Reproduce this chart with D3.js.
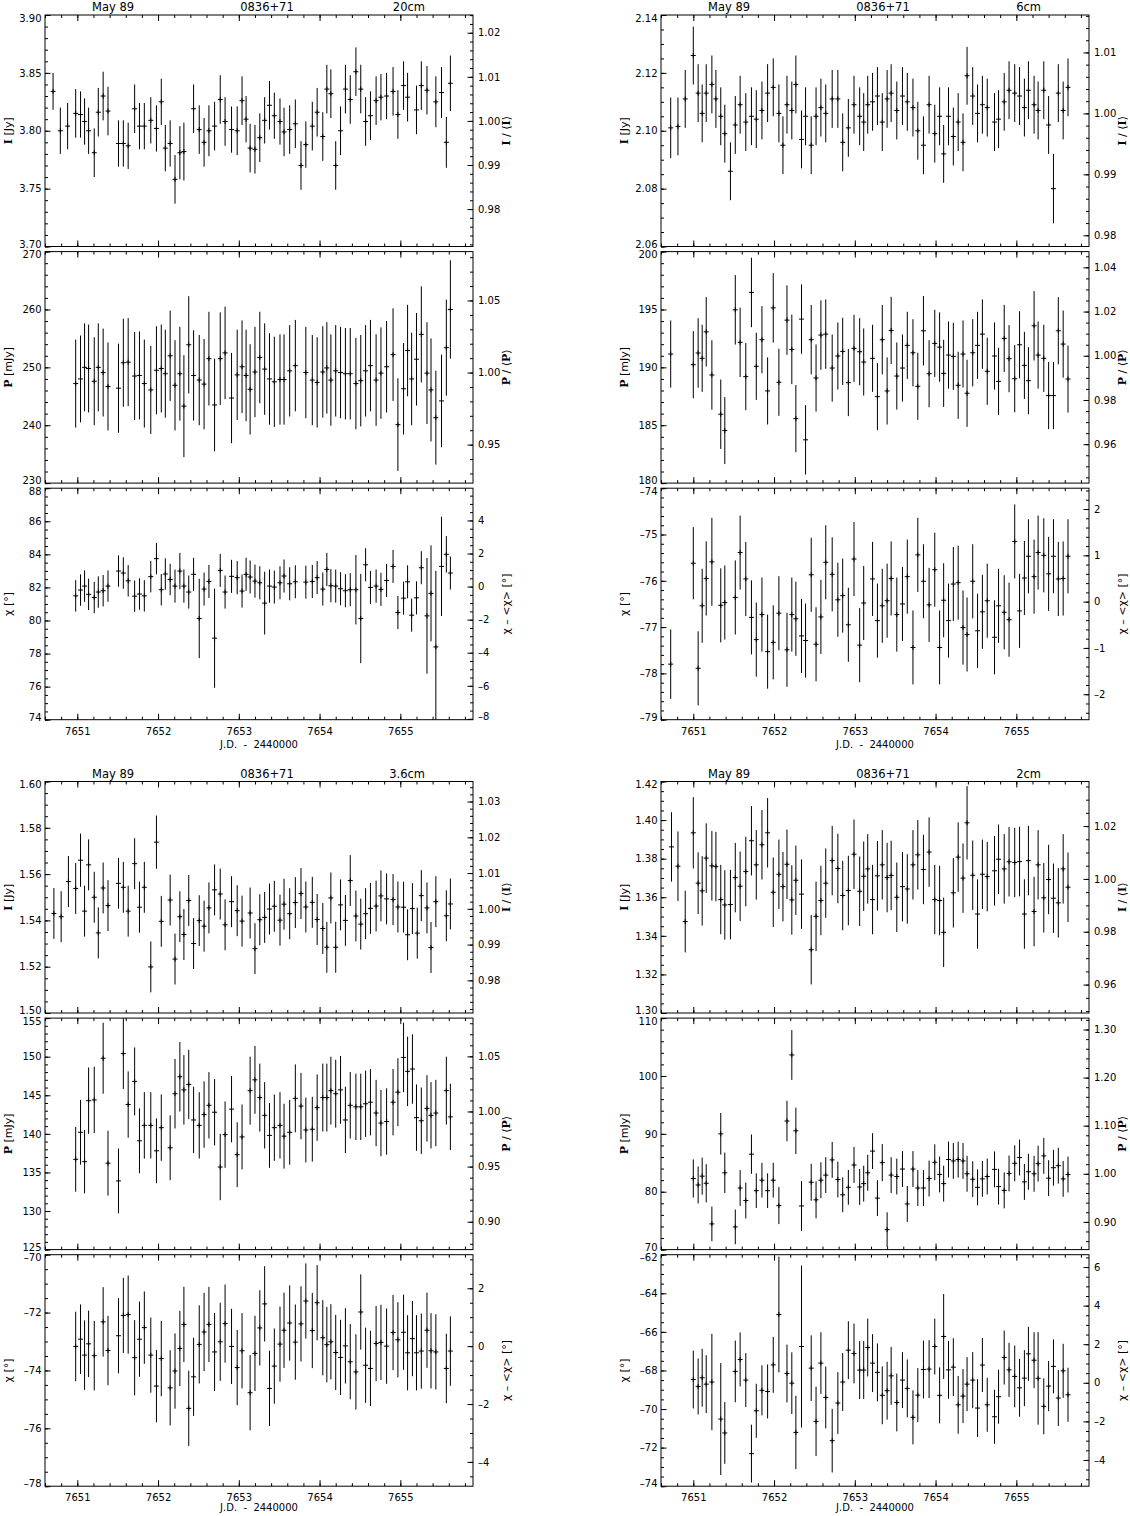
<!DOCTYPE html>
<html>
<head>
<meta charset="utf-8">
<script src="https://cdn.jsdelivr.net/npm/d3@7"></script>
<style>
  body { margin: 0; background: #fff; }
  svg text { font-family: "DejaVu Sans", sans-serif; fill: #000; }
  .tick text { font-size: 10px; }
  .title { font-size: 11.5px; }
  .ylab { font-size: 11px; }
  .xlab { font-size: 10px; white-space: pre; }
</style>
</head>
<body>
<svg id="chart" width="1130" height="1516"></svg>
<script>
// x axis (J.D. - 2440000)
var xDomain = [7650.6, 7655.9];
var xTicks = [7651, 7652, 7653, 7654, 7655];

// ---------- 20cm ----------
var t20I = [7650.70,7650.79,7650.88,7650.98,7651.04,7651.09,7651.14,7651.21,7651.26,7651.32,
  7651.38,7651.51,7651.57,7651.63,7651.71,7651.77,7651.83,7651.91,7651.98,7652.04,
  7652.09,7652.15,7652.21,7652.27,7652.32,7652.44,7652.51,7652.57,7652.63,7652.70,
  7652.77,7652.83,7652.91,7652.98,7653.04,7653.09,7653.14,7653.20,7653.26,7653.32,
  7653.38,7653.44,7653.51,7653.56,7653.63,7653.70,7653.77,7653.83,7653.91,7653.97,
  7654.04,7654.09,7654.14,7654.20,7654.26,7654.32,7654.38,7654.45,7654.51,7654.57,
  7654.63,7654.70,7654.76,7654.83,7654.91,7654.97,7655.04,7655.09,7655.20,7655.26,
  7655.33,7655.44,7655.51,7655.57,7655.62];
var I20 = [3.834,3.800,3.804,3.815,3.814,3.808,3.800,3.781,3.816,3.830,
  3.817,3.789,3.789,3.787,3.819,3.804,3.804,3.809,3.802,3.825,
  3.785,3.789,3.758,3.781,3.782,3.819,3.801,3.790,3.800,3.804,
  3.827,3.808,3.801,3.800,3.826,3.810,3.785,3.784,3.794,3.809,
  3.822,3.813,3.808,3.799,3.801,3.806,3.770,3.788,3.804,3.816,
  3.795,3.836,3.832,3.770,3.800,3.836,3.827,3.851,3.836,3.808,
  3.813,3.826,3.829,3.830,3.834,3.814,3.839,3.829,3.818,3.839,
  3.835,3.825,3.833,3.790,3.841];
var eI20 = [0.016,0.020,0.020,0.021,0.020,0.020,0.020,0.021,0.021,0.021,
  0.021,0.020,0.020,0.020,0.021,0.020,0.020,0.020,0.020,0.020,
  0.020,0.020,0.021,0.023,0.025,0.021,0.021,0.021,0.022,0.021,
  0.021,0.021,0.020,0.021,0.021,0.020,0.021,0.021,0.021,0.020,
  0.021,0.020,0.020,0.021,0.021,0.021,0.021,0.020,0.021,0.021,
  0.021,0.021,0.021,0.021,0.021,0.021,0.021,0.021,0.021,0.021,
  0.021,0.021,0.020,0.020,0.021,0.021,0.021,0.021,0.021,0.021,
  0.021,0.022,0.022,0.022,0.024];
var t20P = [7650.98,7651.04,7651.09,7651.14,7651.21,7651.26,7651.32,7651.38,7651.51,7651.57,
  7651.63,7651.71,7651.77,7651.83,7651.91,7651.98,7652.04,7652.09,7652.15,7652.21,
  7652.27,7652.32,7652.38,7652.44,7652.51,7652.57,7652.63,7652.70,7652.77,7652.83,
  7652.91,7652.98,7653.04,7653.09,7653.14,7653.20,7653.26,7653.32,7653.38,7653.44,
  7653.51,7653.56,7653.63,7653.70,7653.83,7653.91,7653.97,7654.04,7654.09,7654.14,
  7654.20,7654.26,7654.32,7654.38,7654.45,7654.51,7654.57,7654.63,7654.70,7654.76,
  7654.83,7654.91,7654.97,7655.04,7655.09,7655.14,7655.20,7655.26,7655.33,7655.38,
  7655.44,7655.51,7655.57,7655.62];
var P20 = [247.2,248.0,250.0,249.8,247.6,250.0,249.1,246.7,246.4,250.8,
  250.9,248.5,248.6,247.2,246.1,249.5,249.8,248.9,252.0,246.9,
  248.9,243.3,253.9,248.6,247.8,247.1,251.5,243.5,251.5,252.5,
  244.7,248.7,250.1,248.6,246.2,249.2,251.7,249.7,248.0,247.5,
  247.9,247.9,249.4,250.3,249.1,247.8,247.4,249.2,249.9,247.8,
  249.4,249.1,248.9,248.9,247.2,247.7,249.4,250.3,247.8,249.0,
  250.1,252.2,240.1,246.3,252.9,248.0,251.4,255.7,249.0,246.1,
  241.3,244.2,253.4,260.0];
var eP20 = [7.6,7.5,7.6,7.6,7.6,7.6,7.6,7.6,7.7,7.6,
  7.6,7.6,7.6,7.6,7.6,7.6,7.6,7.6,7.8,7.8,
  8.1,8.8,8.4,7.8,7.8,7.8,8.1,8.0,8.0,8.0,
  7.8,7.8,8.0,7.9,7.8,7.8,7.9,7.9,7.9,7.8,
  7.8,7.8,7.9,7.9,7.9,7.8,7.8,7.9,7.9,7.9,
  7.9,7.9,7.9,7.9,7.9,7.9,7.9,7.9,7.9,7.9,
  7.9,8.0,8.0,7.9,7.9,8.0,8.0,8.3,8.8,8.9,
  8.1,8.0,8.3,8.5];
var X20 = [81.49,81.84,82.08,81.58,81.39,81.72,81.80,82.08,82.99,82.87,
  82.40,81.47,81.60,81.49,82.65,83.74,81.86,82.81,82.48,82.08,
  82.99,82.08,81.72,82.79,80.12,81.90,82.36,78.93,83.03,81.72,
  82.67,82.59,81.78,82.79,82.63,82.38,82.28,81.05,82.08,82.02,
  82.28,82.69,82.22,82.34,82.32,82.36,82.59,81.90,83.09,82.10,
  82.08,81.92,81.80,81.86,81.86,80.12,83.37,82.00,82.08,81.88,
  82.42,83.27,80.48,81.35,82.34,80.32,81.37,83.19,80.28,81.64,
  78.40,83.27,84.00,82.87];
var eX20 = [0.95,0.95,0.95,0.95,0.95,0.95,0.95,0.95,0.95,0.95,
  0.95,0.95,0.95,0.95,0.95,0.95,0.95,0.95,0.95,1.0,
  1.1,1.0,1.0,1.0,2.4,1.0,1.0,3.0,1.0,1.0,
  1.0,1.0,1.0,1.0,1.0,1.0,1.0,1.9,1.0,1.0,
  1.0,1.0,1.0,1.0,1.0,1.0,1.0,1.0,1.0,1.0,
  1.0,1.0,1.0,1.0,2.1,2.7,1.0,1.0,1.0,1.0,
  1.0,1.0,1.0,1.0,1.0,1.0,1.0,1.0,3.5,2.9,
  4.6,3.0,1.1,1.0];

// ---------- 6cm ----------
var t6I = [7650.72,7650.81,7650.90,7651.00,7651.06,7651.11,7651.16,7651.23,7651.28,7651.34,
  7651.39,7651.46,7651.52,7651.58,7651.65,7651.72,7651.78,7651.85,7651.92,7651.99,
  7652.06,7652.11,7652.16,7652.22,7652.27,7652.34,7652.39,7652.46,7652.52,7652.58,
  7652.64,7652.72,7652.79,7652.85,7652.92,7652.99,7653.06,7653.11,7653.16,7653.22,
  7653.28,7653.34,7653.40,7653.45,7653.52,7653.59,7653.65,7653.72,7653.78,7653.85,
  7653.92,7653.99,7654.05,7654.10,7654.16,7654.22,7654.28,7654.34,7654.39,7654.46,
  7654.52,7654.58,7654.64,7654.73,7654.78,7654.85,7654.91,7654.98,7655.04,7655.10,
  7655.15,7655.22,7655.27,7655.34,7655.40,7655.46,7655.52,7655.58,7655.64];
var I6 = [2.101,2.1015,2.111,2.126,2.113,2.106,2.113,2.116,2.111,2.105,
  2.099,2.086,2.102,2.109,2.103,2.105,2.104,2.107,2.113,2.115,
  2.106,2.095,2.109,2.107,2.116,2.097,2.105,2.095,2.105,2.108,
  2.106,2.111,2.111,2.096,2.101,2.109,2.105,2.103,2.109,2.110,
  2.112,2.103,2.111,2.113,2.107,2.112,2.110,2.108,2.100,2.095,
  2.109,2.099,2.105,2.092,2.105,2.098,2.103,2.096,2.119,2.112,
  2.106,2.109,2.108,2.103,2.104,2.110,2.114,2.113,2.112,2.108,
  2.114,2.109,2.107,2.114,2.102,2.080,2.113,2.107,2.115];
var eI6 = [0.0105,0.010,0.010,0.010,0.010,0.010,0.010,0.010,0.010,0.010,
  0.010,0.010,0.010,0.010,0.010,0.010,0.010,0.010,0.010,0.010,
  0.010,0.010,0.010,0.010,0.010,0.010,0.010,0.010,0.010,0.010,
  0.010,0.010,0.010,0.010,0.010,0.010,0.010,0.010,0.010,0.010,
  0.010,0.010,0.010,0.010,0.010,0.010,0.010,0.010,0.010,0.010,
  0.010,0.010,0.010,0.010,0.010,0.010,0.010,0.010,0.010,0.010,
  0.010,0.010,0.010,0.010,0.010,0.010,0.010,0.010,0.010,0.010,
  0.010,0.010,0.010,0.010,0.010,0.012,0.010,0.010,0.010];
var t6P = [7650.72,7651.00,7651.06,7651.11,7651.16,7651.23,7651.34,7651.39,7651.52,7651.58,
  7651.65,7651.72,7651.78,7651.85,7651.92,7651.99,7652.06,7652.16,7652.22,7652.27,
  7652.34,7652.39,7652.46,7652.52,7652.58,7652.64,7652.72,7652.79,7652.85,7652.92,
  7652.99,7653.06,7653.11,7653.22,7653.28,7653.34,7653.40,7653.45,7653.52,7653.59,
  7653.65,7653.72,7653.78,7653.85,7653.92,7653.99,7654.05,7654.10,7654.16,7654.22,
  7654.28,7654.34,7654.39,7654.46,7654.52,7654.58,7654.64,7654.73,7654.78,7654.85,
  7654.91,7654.98,7655.04,7655.10,7655.15,7655.22,7655.27,7655.34,7655.40,7655.46,
  7655.52,7655.58,7655.64];
var P6 = [191.15,190.23,191.24,190.78,193.07,189.34,185.95,184.54,194.97,192.16,
  189.20,196.47,190.09,192.39,187.96,195.14,188.71,194.08,191.55,185.57,
  194.17,183.74,192.39,189.08,192.79,192.87,189.94,190.98,191.38,188.68,
  191.64,191.35,190.46,190.78,187.47,192.39,187.96,193.19,189.25,189.94,
  191.90,191.26,188.36,193.16,189.45,192.07,191.75,189.48,191.06,190.95,
  188.45,191.15,187.76,191.26,191.90,192.87,189.66,190.98,188.79,192.50,
  190.75,189.02,191.95,190.17,188.85,193.59,191.06,190.78,187.56,187.56,
  193.16,192.01,188.99];
var eP6 = [2.9,2.9,3.0,2.9,3.0,3.0,3.0,2.9,3.0,3.0,
  2.9,3.0,2.9,2.9,2.9,3.0,2.9,3.0,3.0,2.9,
  3.0,3.0,3.0,2.9,3.0,3.0,2.9,2.9,2.9,2.9,
  2.9,2.9,2.9,2.9,2.9,3.0,2.9,2.9,2.9,2.9,
  2.9,2.9,2.9,3.0,2.9,2.9,3.0,2.9,2.9,2.9,
  2.9,2.9,2.9,2.9,2.9,3.0,2.9,2.9,2.9,2.9,
  2.9,2.9,2.9,2.9,2.9,3.0,2.9,2.9,2.9,2.9,
  2.9,2.9,2.9];
var X6 = [-77.80,-75.62,-77.89,-76.54,-75.95,-75.59,-76.53,-76.47,-76.36,-75.39,
  -75.96,-76.79,-77.27,-76.73,-77.53,-77.33,-76.70,-77.49,-76.73,-76.82,
  -77.19,-77.29,-75.87,-77.37,-76.78,-75.60,-75.86,-76.41,-76.32,-76.95,
  -75.53,-77.39,-76.48,-75.96,-76.86,-76.54,-76.43,-75.95,-76.73,-76.50,
  -75.91,-77.44,-75.44,-76.01,-76.52,-75.76,-77.44,-76.42,-76.86,-76.07,
  -76.04,-77.01,-77.16,-76.01,-77.08,-76.67,-76.43,-77.22,-76.54,-76.68,
  -76.84,-75.15,-76.65,-75.94,-75.47,-75.91,-75.39,-75.45,-75.85,-75.47,
  -75.96,-75.95,-75.47];
var eX6 = [0.75,0.78,0.8,0.8,0.8,0.95,0.8,0.8,0.8,0.8,
  0.8,0.8,0.8,0.8,0.8,0.8,0.8,0.8,0.8,0.8,
  0.8,0.8,0.8,0.8,0.8,0.8,0.8,0.8,0.8,0.8,
  0.8,0.8,0.8,0.8,0.8,0.8,0.8,0.8,0.8,0.8,
  0.8,0.8,0.8,0.8,0.8,0.8,0.8,0.8,0.8,0.8,
  0.8,0.8,0.8,0.8,0.8,0.8,0.8,0.8,0.8,0.8,
  0.8,0.8,0.8,0.8,0.8,0.8,0.8,0.8,0.8,0.8,
  0.8,0.8,0.8];

// ---------- 3.6cm ----------
var t36I = [7650.71,7650.80,7650.89,7650.98,7651.04,7651.09,7651.14,7651.21,7651.26,7651.32,
  7651.38,7651.51,7651.57,7651.63,7651.71,7651.77,7651.83,7651.91,7651.98,7652.04,
  7652.15,7652.21,7652.27,7652.32,7652.38,7652.44,7652.51,7652.57,7652.63,7652.70,
  7652.77,7652.83,7652.91,7652.98,7653.04,7653.14,7653.20,7653.26,7653.32,7653.38,
  7653.44,7653.51,7653.56,7653.63,7653.70,7653.77,7653.83,7653.91,7653.97,7654.04,
  7654.09,7654.14,7654.20,7654.26,7654.32,7654.38,7654.45,7654.51,7654.57,7654.63,
  7654.70,7654.76,7654.83,7654.91,7654.97,7655.04,7655.09,7655.15,7655.21,7655.26,
  7655.33,7655.38,7655.44,7655.57,7655.62];
var I36 = [1.5430,1.5416,1.5568,1.5538,1.5660,1.5440,1.5640,1.5500,1.5346,1.5540,
  1.5464,1.5560,1.5543,1.5440,1.5645,1.5457,1.5543,1.5199,1.5738,1.5396,
  1.5488,1.5233,1.5416,1.5339,1.5486,1.5300,1.5399,1.5375,1.5454,1.5532,
  1.5514,1.5381,1.5481,1.5442,1.5397,1.5432,1.5278,1.5403,1.5413,1.5449,
  1.5461,1.5401,1.5470,1.5429,1.5477,1.5516,1.5458,1.5478,1.5404,1.5365,
  1.5284,1.5497,1.5284,1.5467,1.5400,1.5572,1.5419,1.5384,1.5429,1.5452,
  1.5462,1.5506,1.5493,1.5490,1.5458,1.5457,1.5338,1.5451,1.5345,1.5507,
  1.5454,1.5283,1.5481,1.5420,1.5471];
var eI36 = [0.011,0.011,0.011,0.011,0.0115,0.011,0.011,0.011,0.011,0.011,
  0.011,0.011,0.011,0.011,0.011,0.011,0.011,0.011,0.0115,0.011,
  0.011,0.011,0.011,0.011,0.011,0.011,0.011,0.011,0.011,0.011,
  0.011,0.011,0.011,0.011,0.011,0.011,0.011,0.011,0.011,0.011,
  0.011,0.011,0.011,0.011,0.011,0.011,0.011,0.011,0.011,0.011,
  0.011,0.011,0.011,0.011,0.011,0.011,0.011,0.011,0.011,0.011,
  0.011,0.011,0.011,0.011,0.011,0.011,0.011,0.011,0.011,0.011,
  0.011,0.011,0.011,0.011,0.011];
var t36P = [7650.98,7651.04,7651.09,7651.14,7651.21,7651.32,7651.38,7651.51,7651.57,7651.63,
  7651.71,7651.77,7651.83,7651.91,7651.98,7652.04,7652.15,7652.21,7652.27,7652.32,
  7652.38,7652.44,7652.51,7652.57,7652.63,7652.70,7652.77,7652.83,7652.91,7652.98,
  7653.04,7653.14,7653.20,7653.26,7653.32,7653.38,7653.44,7653.51,7653.56,7653.63,
  7653.70,7653.77,7653.83,7653.91,7653.97,7654.04,7654.09,7654.14,7654.20,7654.26,
  7654.32,7654.38,7654.45,7654.51,7654.57,7654.63,7654.70,7654.76,7654.83,7654.91,
  7654.97,7655.04,7655.09,7655.15,7655.20,7655.26,7655.33,7655.38,7655.44,7655.57,
  7655.62];
var P36 = [136.7,140.2,136.4,144.3,144.4,149.8,136.2,133.9,150.4,143.8,
  146.8,139.1,141.1,141.1,137.8,140.8,138.2,145.2,147.4,145.7,
  146.4,141.8,141.1,142.5,143.7,142.8,135.7,139.9,143.2,137.3,
  139.6,145.6,147.0,144.7,142.4,139.8,140.8,141.1,139.7,140.2,
  144.6,143.6,140.5,140.6,143.4,144.7,144.7,145.6,145.2,145.7,
  141.8,143.7,143.5,143.5,143.9,144.1,142.7,141.4,141.6,144.1,
  145.4,149.9,148.1,148.4,142.1,141.7,143.3,142.4,142.7,145.6,
  142.2];
var eP36 = [4.2,4.2,4.1,4.3,4.3,4.6,4.2,4.2,4.6,4.3,
  4.4,4.2,4.3,4.3,4.2,4.3,4.2,4.5,4.5,4.5,
  4.5,4.3,4.3,4.3,4.3,4.3,4.3,4.3,4.3,4.2,
  4.2,4.4,4.4,4.4,4.3,4.2,4.3,4.3,4.2,4.2,
  4.4,4.3,4.2,4.2,4.3,4.4,4.4,4.4,4.4,4.4,
  4.3,4.3,4.3,4.3,4.3,4.3,4.3,4.3,4.3,4.3,
  4.4,4.5,4.5,4.5,4.3,4.3,4.3,4.3,4.3,4.4,
  4.3];
var X36 = [-73.17,-72.92,-73.47,-73.08,-73.49,-72.32,-73.31,-72.80,-72.10,-72.07,
  -73.56,-72.92,-72.52,-73.47,-74.54,-73.59,-74.60,-74.02,-73.24,-72.41,
  -75.31,-74.22,-73.10,-72.67,-72.41,-73.36,-73.01,-72.38,-73.17,-73.90,
  -73.32,-74.77,-73.41,-72.53,-71.70,-74.62,-73.85,-73.09,-72.61,-72.36,
  -73.02,-72.39,-71.60,-72.62,-71.66,-72.87,-73.11,-73.01,-73.38,-73.55,
  -73.15,-73.70,-74.05,-71.98,-73.82,-73.93,-73.07,-73.03,-73.16,-72.69,
  -72.94,-72.68,-73.39,-72.90,-73.39,-73.33,-72.61,-73.32,-73.36,-73.93,
  -73.33];
var eX36 = [1.2,1.2,1.2,1.15,1.2,1.2,1.2,1.3,1.3,1.35,
  1.3,1.3,1.25,1.3,1.25,1.3,1.3,1.3,1.3,1.3,
  1.3,1.35,1.35,1.35,1.3,1.35,1.35,1.35,1.3,1.3,
  1.3,1.3,1.3,1.3,1.3,1.3,1.3,1.3,1.3,1.3,
  1.3,1.3,1.3,1.3,1.3,1.3,1.3,1.3,1.3,1.3,
  1.3,1.3,1.3,1.3,1.3,1.3,1.3,1.3,1.3,1.3,
  1.3,1.3,1.3,1.3,1.3,1.3,1.3,1.3,1.3,1.2,
  1.2];

// ---------- 2cm ----------
var t2I = [7650.73,7650.81,7650.90,7651.00,7651.06,7651.11,7651.16,7651.23,7651.28,7651.34,
  7651.39,7651.46,7651.52,7651.58,7651.65,7651.72,7651.78,7651.85,7651.92,7651.99,
  7652.06,7652.11,7652.16,7652.22,7652.27,7652.34,7652.46,7652.52,7652.58,7652.64,
  7652.72,7652.79,7652.85,7652.92,7652.99,7653.06,7653.11,7653.16,7653.22,7653.28,
  7653.34,7653.40,7653.45,7653.52,7653.59,7653.65,7653.72,7653.78,7653.85,7653.92,
  7653.99,7654.05,7654.10,7654.22,7654.28,7654.34,7654.39,7654.46,7654.52,7654.58,
  7654.64,7654.73,7654.78,7654.85,7654.91,7654.98,7655.04,7655.10,7655.15,7655.22,
  7655.27,7655.34,7655.40,7655.46,7655.52,7655.58,7655.64];
var I2 = [1.3861,1.3761,1.3474,1.3934,1.3673,1.3633,1.3803,1.3763,1.3759,1.3588,
  1.3560,1.3562,1.3702,1.3657,1.3733,1.3893,1.3768,1.3872,1.3934,1.3626,
  1.3719,1.3655,1.3771,1.3586,1.3688,1.3616,1.3328,1.3501,1.3583,1.3673,
  1.3790,1.3749,1.3609,1.3635,1.3823,1.3631,1.3709,1.3747,1.3588,1.3711,
  1.3768,1.3702,1.3713,1.3600,1.3655,1.3643,1.3768,1.3820,1.3744,1.3834,
  1.3588,1.3583,1.3418,1.3623,1.3808,1.3699,1.3986,1.3714,1.3513,1.3719,
  1.3707,1.3737,1.3797,1.3747,1.3784,1.3780,1.3785,1.3513,1.3790,1.3526,
  1.3768,1.3597,1.3692,1.3595,1.3571,1.3747,1.3652];
var eI2 = [0.018,0.018,0.016,0.0185,0.016,0.018,0.018,0.018,0.018,0.018,
  0.018,0.018,0.018,0.018,0.018,0.018,0.018,0.018,0.018,0.018,
  0.018,0.018,0.018,0.018,0.018,0.018,0.018,0.018,0.018,0.018,
  0.018,0.018,0.018,0.018,0.018,0.018,0.018,0.018,0.018,0.018,
  0.018,0.018,0.018,0.018,0.018,0.018,0.018,0.018,0.018,0.018,
  0.018,0.018,0.018,0.018,0.018,0.018,0.019,0.018,0.018,0.018,
  0.018,0.018,0.018,0.018,0.018,0.018,0.018,0.018,0.018,0.018,
  0.018,0.018,0.018,0.018,0.018,0.018,0.018];
var t2P = [7651.00,7651.06,7651.11,7651.16,7651.23,7651.34,7651.39,7651.52,7651.58,7651.65,
  7651.72,7651.78,7651.85,7651.92,7651.99,7652.06,7652.16,7652.22,7652.27,7652.34,
  7652.46,7652.52,7652.58,7652.64,7652.72,7652.79,7652.85,7652.92,7652.99,7653.06,
  7653.11,7653.16,7653.22,7653.28,7653.34,7653.40,7653.45,7653.52,7653.59,7653.65,
  7653.72,7653.78,7653.85,7653.92,7653.99,7654.05,7654.10,7654.16,7654.22,7654.28,
  7654.34,7654.39,7654.46,7654.52,7654.58,7654.64,7654.73,7654.78,7654.85,7654.91,
  7654.98,7655.04,7655.10,7655.15,7655.22,7655.27,7655.34,7655.40,7655.46,7655.52,
  7655.58,7655.64];
var P2 = [82.28,81.17,82.69,81.46,74.44,90.00,83.27,73.92,80.64,78.48,
  86.49,80.18,81.99,80.18,81.99,77.60,92.22,103.63,90.53,77.54,
  81.64,78.60,81.99,82.87,85.50,82.11,79.47,80.76,84.62,80.82,
  81.40,83.27,87.02,78.89,85.03,73.45,82.87,82.63,83.92,77.89,
  83.92,80.64,80.64,82.28,85.09,82.98,81.40,85.56,85.32,85.56,
  85.32,83.10,82.16,80.76,82.22,82.63,83.86,80.88,80.23,83.16,
  84.91,85.91,81.70,83.45,83.10,84.85,86.20,82.34,84.15,84.50,
  82.22,82.98];
var eP2 = [3.3,3.2,3.2,3.3,3.0,3.6,3.5,3.0,3.1,3.1,
  3.4,3.0,3.0,3.0,3.0,3.2,3.5,4.3,4.0,4.3,
  3.2,3.2,3.1,3.1,3.1,3.1,3.0,3.0,3.1,3.1,
  3.1,3.1,3.1,3.1,3.2,3.0,3.1,3.1,3.1,3.1,
  3.1,3.1,3.1,3.1,3.1,3.1,3.1,3.1,3.1,3.1,
  3.1,3.1,3.1,3.1,3.1,3.1,3.1,3.1,3.1,3.1,
  3.1,3.1,3.1,3.1,3.1,3.1,3.1,3.1,3.1,3.1,
  3.1,3.1];
var X2 = [-68.47,-68.83,-68.38,-68.71,-68.60,-70.52,-71.24,-68.05,-67.43,-68.50,
  -72.31,-70.09,-69.03,-69.09,-67.71,-65.10,-68.16,-68.66,-71.21,-66.76,
  -67.88,-70.64,-67.62,-69.40,-71.64,-69.69,-68.60,-66.95,-67.12,-67.98,
  -67.98,-66.81,-67.62,-68.10,-69.29,-69.05,-68.28,-69.66,-68.50,-68.93,
  -70.43,-69.28,-67.95,-67.93,-66.76,-69.29,-66.24,-67.97,-67.83,-69.78,
  -69.33,-68.71,-68.50,-69.95,-67.72,-69.78,-70.40,-69.36,-67.33,-67.97,
  -68.31,-68.90,-68.40,-67.14,-67.47,-68.41,-69.86,-68.81,-67.79,-69.43,
  -68.02,-69.26];
var eX2 = [1.5,1.45,1.5,1.5,2.5,2.9,1.6,1.6,1.4,1.4,
  1.5,1.4,1.3,1.4,1.45,3.0,1.5,1.6,1.9,4.2,
  1.7,1.8,1.6,1.6,1.65,1.6,1.5,1.5,1.55,1.5,
  1.5,1.5,1.5,1.5,1.5,1.5,1.5,1.5,1.45,1.5,
  1.4,1.4,1.5,1.5,1.45,1.45,2.2,1.5,1.5,1.5,
  1.4,1.4,1.45,1.5,1.4,1.4,1.4,1.4,1.4,1.4,
  1.6,1.5,1.45,1.4,1.45,2.4,1.45,1.3,1.4,1.45,
  1.4,1.4];

// axis tick labels (left = measured, right = normalised)
var tk20I = [3.70,3.75,3.80,3.85,3.90], rt20I = [0.98,0.99,1.00,1.01,1.02];
var tk20P = [230,240,250,260,270],      rt20P = [0.95,1.00,1.05];
var tk20X = [74,76,78,80,82,84,86,88],  rt20X = [-8,-6,-4,-2,0,2,4];
var tk6I = [2.06,2.08,2.10,2.12,2.14],  rt6I = [0.98,0.99,1.00,1.01];
var tk6P = [180,185,190,195,200],       rt6P = [0.96,0.98,1.00,1.02,1.04];
var tk6X = [-79,-78,-77,-76,-75,-74],   rt6X = [-2,-1,0,1,2];
var tk36I = [1.50,1.52,1.54,1.56,1.58,1.60], rt36I = [0.98,0.99,1.00,1.01,1.02,1.03];
var tk36P = [125,130,135,140,145,150,155],   rt36P = [0.90,0.95,1.00,1.05];
var tk36X = [-78,-76,-74,-72,-70],           rt36X = [-4,-2,0,2];
var tk2I = [1.30,1.32,1.34,1.36,1.38,1.40,1.42], rt2I = [0.96,0.98,1.00,1.02];
var tk2P = [70,80,90,100,110],                   rt2P = [0.90,1.00,1.10,1.20,1.30];
var tk2X = [-74,-72,-70,-68,-66,-64,-62],        rt2X = [-4,-2,0,2,4,6];

// mean values used for the right-hand axes
var mean20 = [3.8085, 249.1, 82.05];
var mean6 = [2.106, 191.0, -76.45];
var mean36 = [1.545, 142.9, -73.16];
var mean2 = [1.3695, 83.1, -68.64];

// ---------- layout ----------
var svg = d3.select("#chart");
var W = 428, H = 231.5, STEP = 236.6;

function panel(kind, t, v, e, dom, ticks, minor, fmt, mean, rticks, rminor, rfmt) {
  return {kind: kind, t: t, v: v, e: e, dom: dom, ticks: ticks, minor: minor, fmt: fmt,
          mean: mean, rticks: rticks, rminor: rminor, rfmt: rfmt};
}

var quads = [
  {x0: 45, y0: 15, band: "20cm", panels: [
    panel("I", t20I, I20, eI20, [3.70, 3.90], tk20I, 0.01, ".2f", mean20[0], rt20I, 0.002, ".2f"),
    panel("P", t20P, P20, eP20, [230, 270], tk20P, 2, "d", mean20[1], rt20P, 0.01, ".2f"),
    panel("X", t20P, X20, eX20, [74, 88], tk20X, 0.5, "d", mean20[2], rt20X, 0.5, "d")]},
  {x0: 661, y0: 15, band: "6cm", panels: [
    panel("I", t6I, I6, eI6, [2.06, 2.14], tk6I, 0.005, ".2f", mean6[0], rt6I, 0.002, ".2f"),
    panel("P", t6P, P6, eP6, [180, 200], tk6P, 1, "d", mean6[1], rt6P, 0.005, ".2f"),
    panel("X", t6P, X6, eX6, [-79, -74], tk6X, 0.2, "d", mean6[2], rt6X, 0.2, "d")]},
  {x0: 45, y0: 781.5, band: "3.6cm", panels: [
    panel("I", t36I, I36, eI36, [1.50, 1.60], tk36I, 0.005, ".2f", mean36[0], rt36I, 0.002, ".2f"),
    panel("P", t36P, P36, eP36, [125, 155], tk36P, 1, "d", mean36[1], rt36P, 0.01, ".2f"),
    panel("X", t36P, X36, eX36, [-78, -70], tk36X, 0.5, "d", mean36[2], rt36X, 0.5, "d")]},
  {x0: 661, y0: 781.5, band: "2cm", panels: [
    panel("I", t2I, I2, eI2, [1.30, 1.42], tk2I, 0.005, ".2f", mean2[0], rt2I, 0.005, ".2f"),
    panel("P", t2P, P2, eP2, [70, 110], tk2P, 2, "d", mean2[1], rt2P, 0.02, ".2f"),
    panel("X", t2P, X2, eX2, [-74, -62], tk2X, 0.5, "d", mean2[2], rt2X, 0.5, "d")]}
];

// minor tick positions across a domain
function minorTicks(dom, step) {
  var lo = Math.min(dom[0], dom[1]), hi = Math.max(dom[0], dom[1]);
  return d3.range(Math.ceil(lo / step - 1e-6), Math.floor(hi / step + 1e-6) + 1)
    .map(function(k) { return +(k * step).toFixed(6); });
}
function dashFmt(spec) {
  var f = d3.format(spec);
  return function(d) { return f(d).replace("\u2212", "\u2013"); };
}
function noDomain(g) { g.select(".domain").remove(); }
// keep labels of end ticks inside their own panel
function nudgeEnds(g, scale, top, bot) {
  g.selectAll(".tick text").attr("transform", function(d) {
    var p = scale(d);
    if (Math.abs(p - top) < 1) return "translate(0,3)";
    if (Math.abs(p - bot) < 1) return "translate(0,-2.5)";
    return null;
  });
}

function leftLabel(sel, kind) {
  if (kind === "I") {
    sel.append("tspan").attr("font-family", "DejaVu Serif").attr("font-weight", "bold").text("I");
    sel.append("tspan").text(" [Jy]");
  } else if (kind === "P") {
    sel.append("tspan").attr("font-family", "DejaVu Serif").attr("font-weight", "bold").text("P");
    sel.append("tspan").text(" [mJy]");
  } else {
    sel.text("\u03c7 [\u00b0]");
  }
}
function rightLabel(sel, kind) {
  if (kind === "X") { sel.text("\u03c7 \u2013 <\u03c7> [\u00b0]"); return; }
  sel.append("tspan").attr("font-family", "DejaVu Serif").attr("font-weight", "bold").text(kind);
  sel.append("tspan").text(" / \u27e8");
  sel.append("tspan").attr("font-family", "DejaVu Serif").attr("font-weight", "bold").text(kind);
  sel.append("tspan").text("\u27e9");
}

var clipId = 0;
quads.forEach(function(q) {
  var x = d3.scaleLinear().domain(xDomain).range([q.x0, q.x0 + W]);
  var xMinor = minorTicks(xDomain, 0.2);

  // header line
  var ty = q.y0 - 4;
  svg.append("text").attr("class", "title").attr("x", q.x0 + 47).attr("y", ty).text("May 89");
  svg.append("text").attr("class", "title").attr("x", q.x0 + 222).attr("y", ty)
    .attr("text-anchor", "middle").text("0836+71");
  svg.append("text").attr("class", "title").attr("x", q.x0 + 380).attr("y", ty)
    .attr("text-anchor", "end").text(q.band);

  q.panels.forEach(function(p, i) {
    var top = q.y0 + i * STEP, bot = top + H, last = i === q.panels.length - 1;
    var y = d3.scaleLinear().domain(p.dom).range([bot, top]);
    var rdom = p.kind === "X"
      ? p.dom.map(function(d) { return d - p.mean; })
      : p.dom.map(function(d) { return d / p.mean; });
    var yr = d3.scaleLinear().domain(rdom).range([bot, top]);
    var g = svg.append("g");

    // left axis
    g.append("g").attr("transform", "translate(" + q.x0 + ",0)")
      .call(d3.axisLeft(y).tickValues(minorTicks(p.dom, p.minor)).tickSize(-3).tickFormat(""))
      .call(noDomain);
    g.append("g").attr("transform", "translate(" + q.x0 + ",0)")
      .call(d3.axisLeft(y).tickValues(p.ticks).tickSize(-5.5).tickPadding(3.5).tickFormat(dashFmt(p.fmt)))
      .call(noDomain)
      .call(nudgeEnds, y, top, bot);
    // right axis
    g.append("g").attr("transform", "translate(" + (q.x0 + W) + ",0)")
      .call(d3.axisRight(yr).tickValues(minorTicks(rdom, p.rminor)).tickSize(-3).tickFormat(""))
      .call(noDomain);
    g.append("g").attr("transform", "translate(" + (q.x0 + W) + ",0)")
      .call(d3.axisRight(yr).tickValues(p.rticks).tickSize(-5.5).tickPadding(5).tickFormat(dashFmt(p.rfmt)))
      .call(noDomain)
      .call(nudgeEnds, yr, top, bot);
    // bottom and top time axes
    g.append("g").attr("transform", "translate(0," + bot + ")")
      .call(d3.axisBottom(x).tickValues(xMinor).tickSize(-3).tickFormat(""))
      .call(noDomain);
    g.append("g").attr("transform", "translate(0," + bot + ")")
      .call(d3.axisBottom(x).tickValues(xTicks).tickSize(-6).tickPadding(8)
        .tickFormat(last ? d3.format("d") : ""))
      .call(noDomain);
    g.append("g").attr("transform", "translate(0," + top + ")")
      .call(d3.axisTop(x).tickValues(xMinor).tickSize(-3).tickFormat(""))
      .call(noDomain);
    g.append("g").attr("transform", "translate(0," + top + ")")
      .call(d3.axisTop(x).tickValues(xTicks).tickSize(-6).tickFormat(""))
      .call(noDomain);

    // frame
    g.append("rect").attr("x", q.x0).attr("y", top).attr("width", W).attr("height", H)
      .attr("fill", "none").attr("stroke", "#000").attr("stroke-width", 1);

    // axis titles
    leftLabel(g.append("text").attr("class", "ylab").attr("text-anchor", "middle")
      .attr("transform", "translate(" + (q.x0 - 33) + "," + (top + H / 2) + ") rotate(-90)"), p.kind);
    rightLabel(g.append("text").attr("class", "ylab").attr("text-anchor", "middle")
      .attr("transform", "translate(" + (q.x0 + W + 37) + "," + (top + H / 2) + ") rotate(-90)"), p.kind);

    // data: error bars and plus markers
    var cid = "clip" + (clipId++);
    g.append("clipPath").attr("id", cid).append("rect")
      .attr("x", q.x0).attr("y", top).attr("width", W).attr("height", H);
    var pts = p.t.map(function(t, k) { return {t: t, v: p.v[k], e: p.e[k]}; });
    var dg = g.append("g").attr("clip-path", "url(#" + cid + ")")
      .attr("stroke", "#000").attr("stroke-width", 1).attr("fill", "none");
    dg.selectAll("line.err").data(pts).enter().append("line").attr("class", "err")
      .attr("x1", function(d) { return x(d.t); }).attr("x2", function(d) { return x(d.t); })
      .attr("y1", function(d) { return y(d.v - d.e); }).attr("y2", function(d) { return y(d.v + d.e); });
    dg.selectAll("path.mk").data(pts).enter().append("path").attr("class", "mk")
      .attr("d", function(d) {
        var cx = x(d.t), cy = y(d.v);
        return "M" + (cx - 2.5) + "," + cy + "H" + (cx + 2.5) + "M" + cx + "," + (cy - 2.5) + "V" + (cy + 2.5);
      });

    if (last) {
      g.append("text").attr("class", "xlab").attr("text-anchor", "middle")
        .attr("x", q.x0 + W / 2).attr("y", Math.min(bot + 28, 1511)).text("J.D.  -  2440000");
    }
  });
});
</script>
</body>
</html>
